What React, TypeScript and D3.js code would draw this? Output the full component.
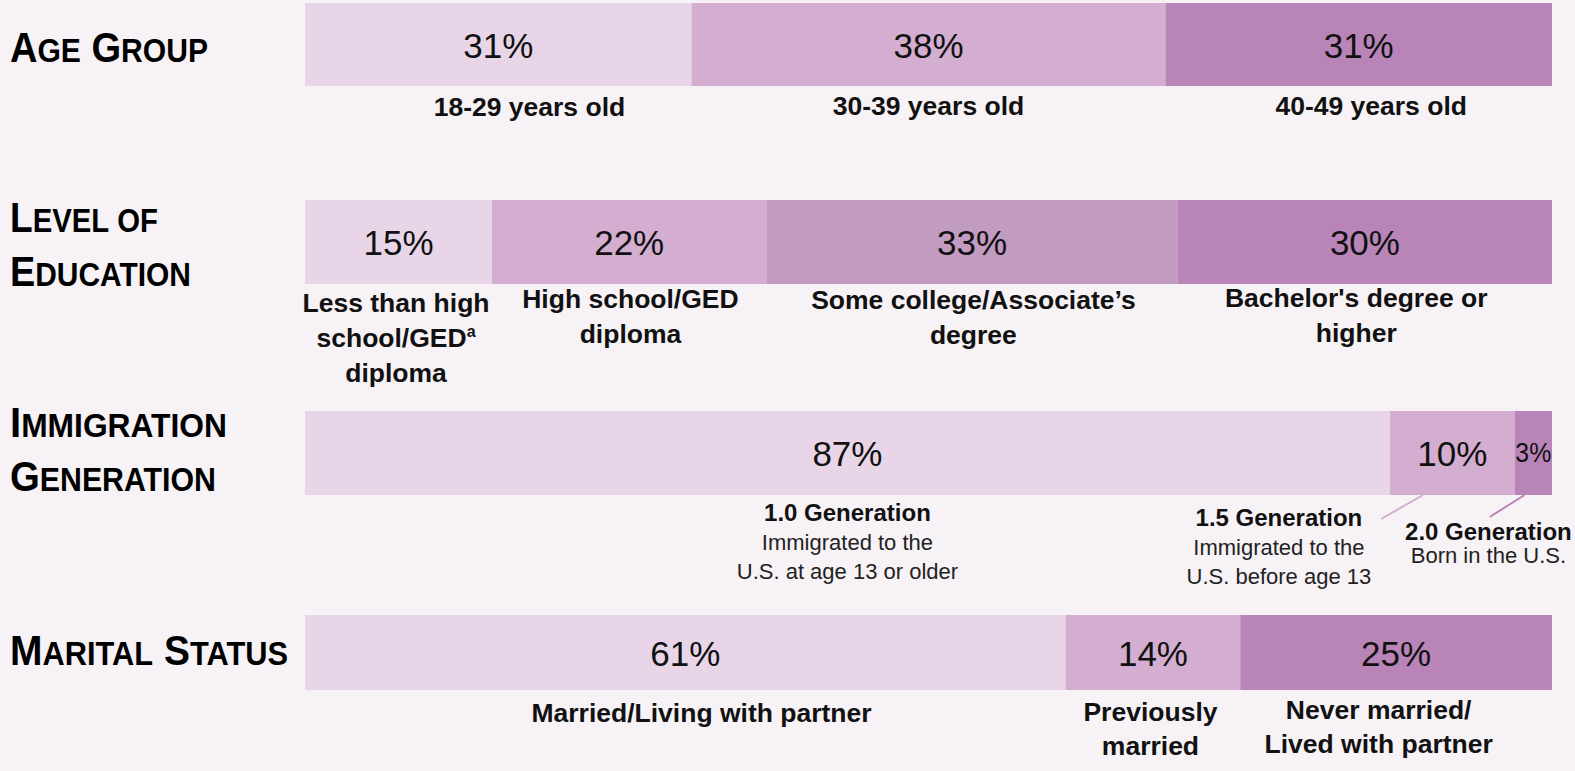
import React, { useLayoutEffect, useRef, useState } from "react";
import * as d3 from "d3";

// ---------- data ----------
const ageTitle = ["Age Group"];
const ageCategories = [["18-29 years old"], ["30-39 years old"], ["40-49 years old"]];
const ageValues = [31, 38, 31];

const eduTitle = ["Level of", "Education"];
const eduCategories = [
  ["Less than high", "school/GED^a", "diploma"],
  ["High school/GED", "diploma"],
  ["Some college/Associate\u2019s", "degree"],
  ["Bachelor's degree or", "higher"],
];
const eduValues = [15, 22, 33, 30];

const immTitle = ["Immigration", "Generation"];
const immCategories = ["1.0 Generation", "1.5 Generation", "2.0 Generation"];
const immNotes = [
  ["Immigrated to the", "U.S. at age 13 or older"],
  ["Immigrated to the", "U.S. before age 13"],
  ["Born in the U.S."],
];
const immValues = [87, 10, 3];

const marTitle = ["Marital Status"];
const marCategories = [["Married/Living with partner"], ["Previously", "married"], ["Never married/", "Lived with partner"]];
const marValues = [61, 14, 25];

// ---------- layout / style ----------
const W = 1575;
const H = 771;
const BG = "#f7f2f6";
const LIGHT = "#e8d6e8";
const MID = "#d3aed0";
const EDU3 = "#c29bc0";
const DARK = "#b985b8";

const x = d3.scaleLinear().domain([0, 100]).range([305, 1552]);

const TITLE_FONT = "'Liberation Sans Narrow', 'Arial Narrow', 'Liberation Sans', sans-serif";
const FONT = "'Liberation Sans', Arial, sans-serif";
const LABEL_SIZE = 26.5;

type Row = {
  title: string[];
  titleBaselines: number[];
  titleWidths: number[];
  values: number[];
  colors: string[];
  y0: number;
  y1: number;
  labelCenters: number[]; // in data units
  labelBaselines: number[]; // first-line baseline per category
};

const rows: Row[] = [
  {
    title: ageTitle,
    titleBaselines: [62],
    titleWidths: [198],
    values: ageValues,
    colors: [LIGHT, MID, DARK],
    y0: 3,
    y1: 86,
    labelCenters: [18.0, 50.0, 85.5],
    labelBaselines: [116, 115, 115],
  },
  {
    title: eduTitle,
    titleBaselines: [232, 286],
    titleWidths: [148, 181],
    values: eduValues,
    colors: [LIGHT, MID, EDU3, DARK],
    y0: 200,
    y1: 284,
    labelCenters: [7.3, 26.1, 53.6, 84.3],
    labelBaselines: [312, 308, 309, 307],
  },
  {
    title: immTitle,
    titleBaselines: [437, 491],
    titleWidths: [217, 206],
    values: immValues,
    colors: [LIGHT, MID, DARK],
    y0: 411,
    y1: 495,
    labelCenters: [43.5, 78.1, 94.9],
    labelBaselines: [521, 526, 540],
  },
  {
    title: marTitle,
    titleBaselines: [665],
    titleWidths: [278],
    values: marValues,
    colors: [LIGHT, MID, DARK],
    y0: 615,
    y1: 690,
    labelCenters: [31.8, 67.8, 86.1],
    labelBaselines: [722, 721, 719],
  },
];

function SmallCaps({ text, x0, y, width }: { text: string; x0: number; y: number; width: number }) {
  const ref = useRef<SVGTextElement>(null);
  const [sx, setSx] = useState(0.88);
  useLayoutEffect(() => {
    if (ref.current) {
      const w = ref.current.getComputedTextLength();
      if (w > 0) setSx(width / w);
    }
  }, [text, width]);
  const words = text.split(" ");
  const parts: React.ReactNode[] = [];
  words.forEach((w, i) => {
    const first = w[0];
    const rest = w.slice(1).toUpperCase();
    const big = first === first.toUpperCase();
    parts.push(
      <tspan key={"a" + i} fontSize={big ? 43 : 34}>
        {(i > 0 ? " " : "") + first.toUpperCase()}
      </tspan>
    );
    if (rest) parts.push(<tspan key={"b" + i} fontSize={34}>{rest}</tspan>);
  });
  return (
    <text
      ref={ref}
      x={0}
      y={0}
      transform={`translate(${x0},${y}) scale(${sx},1)`}
      fontFamily={TITLE_FONT}
      fontWeight="bold"
      fill="#000"
    >
      {parts}
    </text>
  );
}

function renderLine(s: string) {
  if (s.includes("^")) {
    const [a, b] = s.split("^");
    return (
      <>
        {a}
        <tspan fontSize={16} dy={-10}>{b}</tspan>
      </>
    );
  }
  return s;
}

export default function App() {
  return (
    <div style={{ position: "fixed", left: 0, top: 0, width: W, height: H }}>
      <svg width={W} height={H} style={{ display: "block" }}>
        <rect x={0} y={0} width={W} height={H} fill={BG} />
        {rows.map((row, ri) => {
          const cum = d3.cumsum(row.values);
          const starts = row.values.map((v, i) => cum[i] - v);
          const mid = (row.y0 + row.y1) / 2;
          return (
            <g key={ri}>
              {row.title.map((t, ti) => (
                <SmallCaps key={ti} text={t} x0={10} y={row.titleBaselines[ti]} width={row.titleWidths[ti]} />
              ))}
              {row.values.map((v, i) => (
                <rect
                  key={"r" + i}
                  x={x(starts[i])}
                  y={row.y0}
                  width={x(starts[i] + v) - x(starts[i])}
                  height={row.y1 - row.y0}
                  fill={row.colors[i]}
                />
              ))}
              {row.values.map((v, i) => {
                const cx = x(starts[i] + v / 2);
                const small = v < 5;
                return (
                  <text
                    key={"p" + i}
                    x={cx}
                    y={mid + (small ? 9 : 13)}
                    textAnchor="middle"
                    fontFamily={FONT}
                    fontSize={small ? 27 : 35}
                    fill="#111"
                    {...(small ? { textLength: 36, lengthAdjust: "spacingAndGlyphs" } : {})}
                  >
                    {v + "%"}
                  </text>
                );
              })}
            </g>
          );
        })}

        {/* Age labels */}
        {ageCategories.map((lines, i) =>
          lines.map((l, li) => (
            <text
              key={"age" + i + li}
              x={x(rows[0].labelCenters[i])}
              y={rows[0].labelBaselines[i] + li * 35}
              textAnchor="middle"
              fontFamily={FONT}
              fontWeight="bold"
              fontSize={LABEL_SIZE}
              fill="#111"
            >
              {l}
            </text>
          ))
        )}

        {/* Education labels */}
        {eduCategories.map((lines, i) =>
          lines.map((l, li) => (
            <text
              key={"edu" + i + li}
              x={x(rows[1].labelCenters[i])}
              y={rows[1].labelBaselines[i] + li * 35}
              textAnchor="middle"
              fontFamily={FONT}
              fontWeight="bold"
              fontSize={LABEL_SIZE}
              fill="#111"
            >
              {renderLine(l)}
            </text>
          ))
        )}

        {/* Immigration labels */}
        {immCategories.map((c, i) => (
          <g key={"imm" + i}>
            <text
              x={x(rows[2].labelCenters[i])}
              y={rows[2].labelBaselines[i]}
              textAnchor="middle"
              fontFamily={FONT}
              fontWeight="bold"
              fontSize={24}
              fill="#111"
            >
              {c}
            </text>
            {immNotes[i].map((n, ni) => (
              <text
                key={ni}
                x={x(rows[2].labelCenters[i])}
                y={rows[2].labelBaselines[i] + (i === 2 ? 23 : 29) + ni * 29}
                textAnchor="middle"
                fontFamily={FONT}
                fontSize={22}
                fill="#222"
              >
                {n}
              </text>
            ))}
          </g>
        ))}
        {/* leader lines */}
        <line x1={x(89.65)} y1={rows[2].y1} x2={x(86.3)} y2={rows[2].y1 + 24} stroke={MID} strokeWidth={2} />
        <line x1={x(97.8)} y1={rows[2].y1} x2={x(95.0)} y2={rows[2].y1 + 22} stroke={DARK} strokeWidth={2} />

        {/* Marital labels */}
        {marCategories.map((lines, i) =>
          lines.map((l, li) => (
            <text
              key={"mar" + i + li}
              x={x(rows[3].labelCenters[i])}
              y={rows[3].labelBaselines[i] + li * 34}
              textAnchor="middle"
              fontFamily={FONT}
              fontWeight="bold"
              fontSize={LABEL_SIZE}
              fill="#111"
            >
              {l}
            </text>
          ))
        )}
      </svg>
    </div>
  );
}
